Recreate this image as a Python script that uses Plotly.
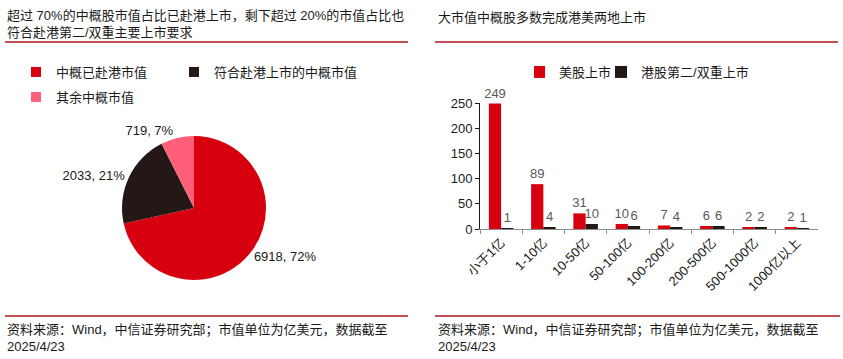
import plotly.graph_objects as go

W, H = 843, 359

# ---------------- data ----------------
pie_labels = ["中概已赴港市值", "符合赴港上市的中概市值", "其余中概市值"]
pie_values = [6918, 2033, 719]
pie_colors = ["#D7000F", "#231815", "#FF5F78"]

bar_categories = ["小于1亿", "1-10亿", "10-50亿", "50-100亿", "100-200亿", "200-500亿", "500-1000亿", "1000亿以上"]
us_listed = [249, 89, 31, 10, 7, 6, 2, 2]
hk_listed = [1, 4, 10, 6, 4, 6, 2, 1]
bar_names = ["美股上市", "港股第二/双重上市"]
bar_colors = ["#D7000F", "#231815"]

title_left = "超过 70%的中概股市值占比已赴港上市，剩下超过 20%的市值占比也<br>符合赴港第二/双重主要上市要求"
title_right = "大市值中概股多数完成港美两地上市"
source_text = "资料来源：Wind，中信证券研究部；市值单位为亿美元，数据截至<br>2025/4/23"

FONT = "Liberation Sans, Arial, Noto Sans CJK SC, sans-serif"
TXT = "#1a1a1a"
RULE = "#B0141C"


def px(x):
    return x / W


def py(y):
    return 1 - y / H


fig = go.Figure()

# ---------------- pie ----------------
fig.add_trace(go.Pie(
    labels=pie_labels, values=pie_values, sort=False, direction="clockwise", rotation=0,
    marker=dict(colors=pie_colors, line=dict(width=0)),
    texttemplate="%{value}, %{percent:.0%}", textposition="outside",
    textfont=dict(size=13, color=TXT, family=FONT),
    showlegend=False,
    domain=dict(x=[px(122), px(266)], y=[py(280), py(136)]),
))

# legend entries for the pie slices (two rows as in the reference)
for i, (lab, col) in enumerate(zip(pie_labels, pie_colors)):
    fig.add_trace(go.Scatter(
        x=[None], y=[None], mode="markers", name=lab,
        marker=dict(symbol="square", size=10, color=col),
        legend="legend" if i < 2 else "legend3", showlegend=True, hoverinfo="skip",
        legendwidth=128 if i == 0 else None,
    ))

# ---------------- bars ----------------
for name, vals, col in zip(bar_names, [us_listed, hk_listed], bar_colors):
    fig.add_trace(go.Bar(
        x=bar_categories, y=vals, name=name, marker=dict(color=col, line=dict(width=0)),
        text=vals, textposition="outside", cliponaxis=False, constraintext="none",
        textfont=dict(size=13, color="#595959", family=FONT),
        legend="legend2",
    ))

leg_common = dict(orientation="h", xanchor="left", yanchor="middle", indentation=-15,
                  font=dict(size=13, color=TXT, family=FONT), bgcolor="rgba(0,0,0,0)")

fig.update_layout(
    width=W, height=H, margin=dict(l=0, r=0, t=0, b=0, autoexpand=False),
    paper_bgcolor="white", plot_bgcolor="white",
    font=dict(family=FONT, size=13, color=TXT),
    barmode="group", bargap=0.42, bargroupgap=0,
    xaxis=dict(domain=[px(480), px(818)], type="category", showgrid=False, zeroline=False,
               showline=True, linecolor="#8c8c8c", linewidth=1, automargin=False,
               ticks="outside", tickson="boundaries", ticklen=4, tickcolor="#8c8c8c",
               tickangle=-45, tickfont=dict(size=13, color=TXT, family=FONT)),
    yaxis=dict(domain=[py(229), py(103)], range=[0, 250], dtick=50, showgrid=False, zeroline=False,
               showline=True, linecolor="#1a1a1a", linewidth=1, automargin=False,
               ticks="outside", ticklen=4, tickcolor="#1a1a1a",
               tickfont=dict(size=13, color=TXT, family=FONT)),
    legend=dict(x=px(31), y=py(72), **leg_common),
    legend3=dict(x=px(31), y=py(97), **leg_common),
    legend2=dict(x=px(534), y=py(72), **leg_common),
)

ann = [
    dict(text=title_left, x=px(5), y=py(6), xanchor="left", yanchor="top", align="left"),
    dict(text=title_right, x=px(436), y=py(8), xanchor="left", yanchor="top", align="left"),
    dict(text=source_text, x=px(5), y=py(320), xanchor="left", yanchor="top", align="left"),
    dict(text=source_text, x=px(436), y=py(320), xanchor="left", yanchor="top", align="left"),
]
for a in ann:
    fig.add_annotation(xref="paper", yref="paper", showarrow=False,
                       font=dict(size=13, color=TXT, family=FONT), **a)

for x0, x1, y in [(5, 408, 42), (435, 838, 42), (5, 408, 316), (435, 840, 316)]:
    fig.add_shape(type="line", xref="paper", yref="paper", x0=px(x0), x1=px(x1), y0=py(y), y1=py(y),
                  line=dict(color=RULE, width=1.5))

fig.write_html("out.html", post_script="document.body.style.margin='0';")
